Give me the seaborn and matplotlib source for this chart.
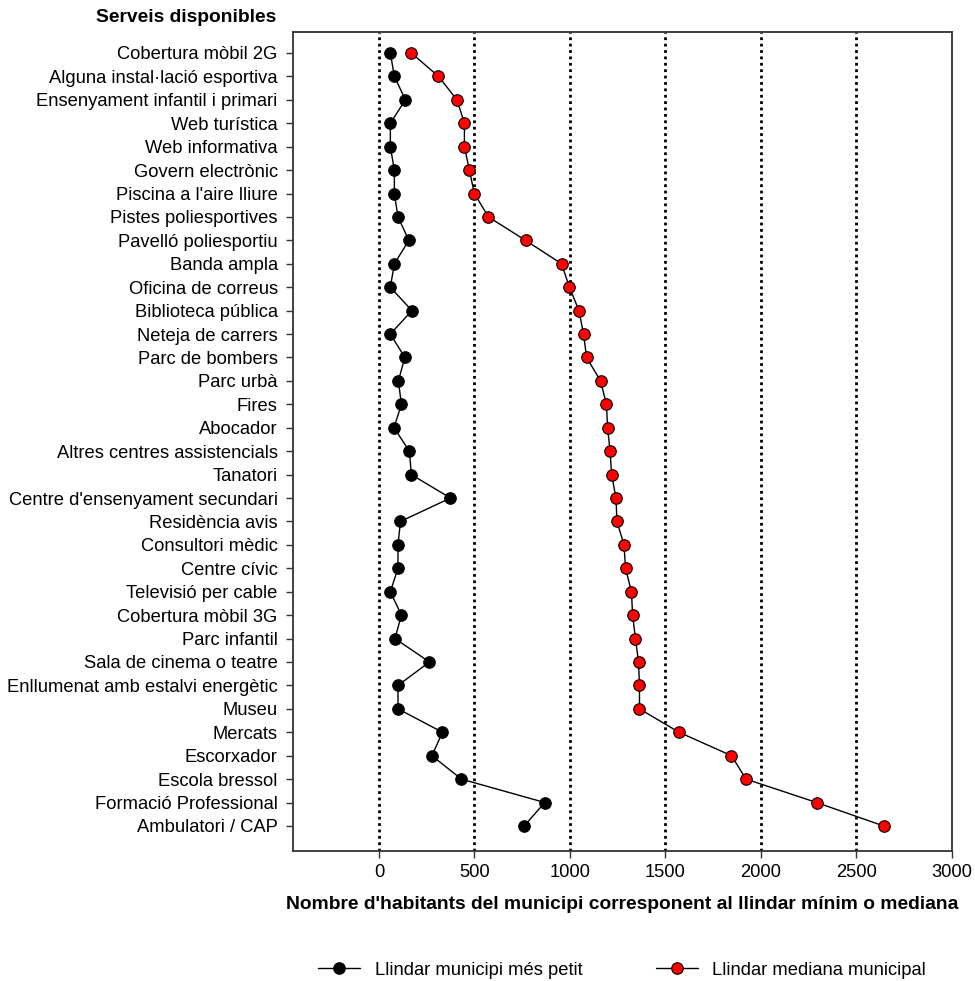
import numpy as np
import pandas as pd
import matplotlib
matplotlib.use("Agg")
import matplotlib.pyplot as plt
import seaborn as sns

# ----------------------------
# Data
# ----------------------------
serveis = [
    "Cobertura mòbil 2G", "Alguna instal·lació esportiva", "Ensenyament infantil i primari",
    "Web turística", "Web informativa", "Govern electrònic", "Piscina a l'aire lliure",
    "Pistes poliesportives", "Pavelló poliesportiu", "Banda ampla", "Oficina de correus",
    "Biblioteca pública", "Neteja de carrers", "Parc de bombers", "Parc urbà", "Fires",
    "Abocador", "Altres centres assistencials", "Tanatori", "Centre d'ensenyament secundari",
    "Residència avis", "Consultori mèdic", "Centre cívic", "Televisió per cable",
    "Cobertura mòbil 3G", "Parc infantil", "Sala de cinema o teatre",
    "Enllumenat amb estalvi energètic", "Museu", "Mercats", "Escorxador", "Escola bressol",
    "Formació Professional", "Ambulatori / CAP",
]
llindar_minim = [60, 81, 139, 60, 60, 81, 81, 100, 157, 81, 60, 173, 60, 136, 102, 118,
                 79, 160, 170, 375, 113, 100, 100, 60, 118, 84, 265, 100, 100, 333, 278,
                 432, 869, 761]
llindar_mediana = [170, 312, 409, 448, 448, 474, 500, 574, 768, 957, 998, 1048, 1072, 1088,
                   1161, 1192, 1198, 1211, 1219, 1242, 1247, 1284, 1292, 1323, 1329, 1344,
                   1360, 1365, 1365, 1572, 1847, 1923, 2293, 2644]
x_ticks = [0, 500, 1000, 1500, 2000, 2500, 3000]
ref_lines = [0, 500, 1000, 1500, 2000, 2500]

pos = np.arange(len(serveis))
df = pd.DataFrame({"pos": pos, "minim": llindar_minim, "mediana": llindar_mediana})

# ----------------------------
# Plot
# ----------------------------
sns.set_style("white")
plt.rcParams["font.family"] = ["Liberation Sans", "DejaVu Sans"]
plt.rcParams["text.color"] = "black"
plt.rcParams["xtick.color"] = "black"
plt.rcParams["ytick.color"] = "black"
plt.rcParams["axes.labelcolor"] = "black"

FS = 13.2
FS_BOLD = 13.9

fig = plt.figure(figsize=(9.75, 9.81), dpi=100)
ax = fig.add_axes([0.3005, 0.1325, 0.6755, 0.835])

for xv in ref_lines:
    ax.axvline(xv, color="black", linestyle=(0, (1, 1.3)), linewidth=2, zorder=1)

sns.lineplot(data=df, x="minim", y="pos", orient="y", sort=False, estimator=None,
             color="black", linewidth=1, marker="o", markersize=8.3,
             markerfacecolor="black", markeredgecolor="black", markeredgewidth=0.8,
             label="Llindar municipi més petit", ax=ax, zorder=3)
sns.lineplot(data=df, x="mediana", y="pos", orient="y", sort=False, estimator=None,
             color="black", linewidth=1, marker="o", markersize=8.3,
             markerfacecolor="red", markeredgecolor="black", markeredgewidth=0.8,
             label="Llindar mediana municipal", ax=ax, zorder=3)

ax.set_xlim(-450, 3000)
ax.set_ylim(len(serveis) - 1 + 1.07, -0.9)
ax.set_yticks(pos)
ax.set_yticklabels(serveis, fontsize=FS)
ax.set_xticks(x_ticks)
ax.set_xticklabels([str(v) for v in x_ticks], fontsize=FS)
ax.tick_params(axis="both", length=5, width=1, color="#333333", direction="out",
               left=True, bottom=True, pad=4)
ax.tick_params(axis="y", pad=6)
for sp in ax.spines.values():
    sp.set_color("#333333")
    sp.set_linewidth(1.3)

ax.set_xlabel("Nombre d'habitants del municipi corresponent al llindar mínim o mediana",
              fontsize=FS_BOLD, fontweight="bold", labelpad=11)
ax.set_ylabel("")
fig.text(0.098, 0.982, "Serveis disponibles", fontsize=FS_BOLD, fontweight="bold",
         ha="left", va="center")

handles, labels = ax.get_legend_handles_labels()
ax.get_legend().remove()
fig.legend(handles, labels, loc="center", bbox_to_anchor=(0.638, 0.011), ncol=2,
           frameon=False, fontsize=FS, handlelength=2.3, columnspacing=4.0)

fig.savefig("out.png", dpi=100)
